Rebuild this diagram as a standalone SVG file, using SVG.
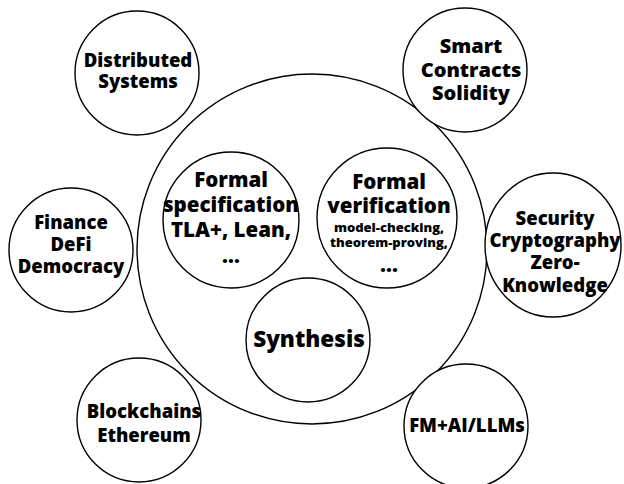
<svg xmlns="http://www.w3.org/2000/svg" width="624" height="484" viewBox="0 0 624 484">
<style>
.c{fill:#fff;stroke:#000;stroke-width:1.4}
text{font-family:"Open Sans","Noto Sans","DejaVu Sans",sans-serif;font-weight:800;fill:#000;text-anchor:middle}
.f19{font-size:18.5px}
.f20{font-size:20px}
.f21{font-size:20.5px}
.f13{font-size:13px}
.f23{font-size:22.5px}
</style>
<rect width="624" height="484" fill="#fff"/>
<g id="connectors"></g>
<g id="core">
<circle class="c" cx="312" cy="249" r="175"/>
</g>
<g id="formal-specification">
<circle class="c" cx="231" cy="220" r="68"/>
<text class="f21"><tspan x="231" y="187">Formal</tspan><tspan x="231" y="212">specification</tspan><tspan x="231" y="237">TLA+, Lean,</tspan><tspan x="231" y="263">...</tspan></text>
</g>
<g id="formal-verification">
<circle class="c" cx="387" cy="218" r="70"/>
<text class="f21"><tspan x="389" y="189">Formal</tspan><tspan x="389" y="213">verification</tspan></text>
<text class="f13"><tspan x="389" y="232">model-checking,</tspan><tspan x="389" y="247">theorem-proving,</tspan></text>
<text class="f21"><tspan x="389" y="272">...</tspan></text>
</g>
<g id="synthesis">
<circle class="c" cx="308" cy="340" r="62"/>
<text class="f23" x="309" y="347">Synthesis</text>
</g>
<g id="distributed-systems">
<circle class="c" cx="137" cy="73" r="62"/>
<text class="f19"><tspan x="138" y="67">Distributed</tspan><tspan x="138" y="88">Systems</tspan></text>
</g>
<g id="smart-contracts">
<circle class="c" cx="465" cy="70" r="62"/>
<text class="f20"><tspan x="471" y="53">Smart</tspan><tspan x="471" y="77">Contracts</tspan><tspan x="471" y="100">Solidity</tspan></text>
</g>
<g id="finance">
<circle class="c" cx="71" cy="250" r="62"/>
<text class="f19"><tspan x="71" y="229">Finance</tspan><tspan x="71" y="251">DeFi</tspan><tspan x="71" y="273">Democracy</tspan></text>
</g>
<g id="security">
<ellipse class="c" cx="553" cy="245" rx="68" ry="72"/>
<text class="f19"><tspan x="555" y="225">Security</tspan><tspan x="555" y="247">Cryptography</tspan><tspan x="555" y="269">Zero-</tspan><tspan x="555" y="292">Knowledge</tspan></text>
</g>
<g id="blockchains">
<circle class="c" cx="139" cy="420" r="62"/>
<text class="f19"><tspan x="144" y="418">Blockchains</tspan><tspan x="144" y="442">Ethereum</tspan></text>
</g>
<g id="fm-ai">
<circle class="c" cx="466" cy="426" r="62"/>
<text class="f19" x="467" y="432">FM+AI/LLMs</text>
</g>
</svg>
